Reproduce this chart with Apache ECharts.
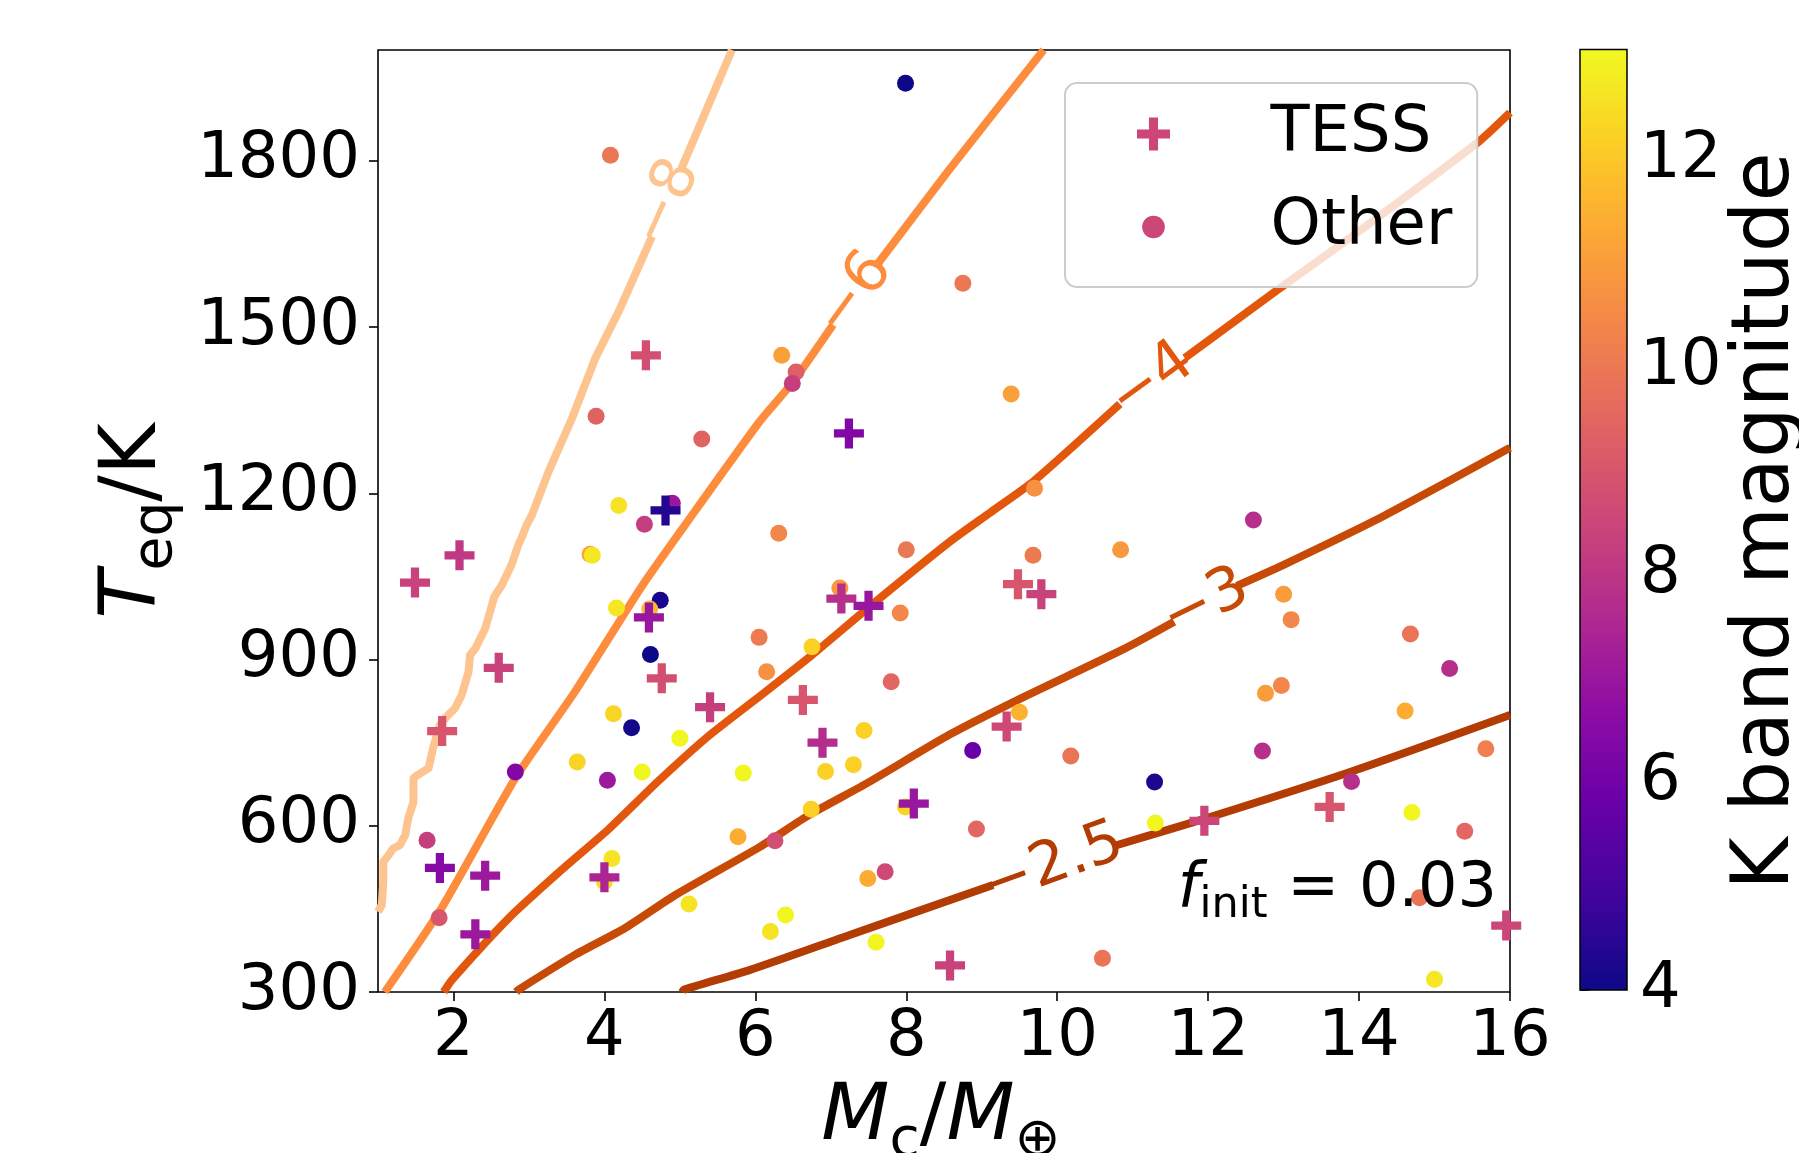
<!DOCTYPE html>
<html>
<head>
<meta charset="utf-8">
<script src="https://cdn.jsdelivr.net/npm/echarts@6/dist/echarts.min.js"></script>
<style>
  html, body { margin: 0; padding: 0; background: #fff; }
  #chart { width: 1799px; height: 1153px; }
</style>
</head>
<body>
<div id="chart"></div>
<script>
// TESS planets: core mass (Earth masses), Teq (K), K band magnitude
var tessMass = [1.49, 2.08, 1.85, 2.60, 1.82, 2.42, 2.29, 4.55, 4.81, 4.59, 4.76, 5.40, 4.00,
                7.24, 7.14, 7.50, 6.63, 6.89, 8.10, 9.33, 9.48, 9.79, 8.58, 11.95, 13.61, 15.95];
var tessTeq  = [1039, 1088, 771, 885, 524, 510, 404, 1449, 1169, 976, 866, 814, 507,
                1308, 1010, 997, 827, 750, 640, 779, 1036, 1018, 348, 609, 634, 420];
var tessKmag = [8.4, 8.1, 9.0, 8.4, 6.5, 7.1, 7.1, 8.8, 4.4, 7.0, 8.8, 8.3, 7.5,
                6.4, 7.8, 7.0, 9.0, 7.7, 7.0, 8.6, 9.0, 8.4, 8.4, 8.5, 9.0, 8.5];

// other known planets
var otherMass = [4.08, 3.89, 5.29, 4.19, 4.90, 4.53, 7.99, 8.75, 6.35, 6.54, 6.49, 9.39, 9.70, 12.60,
                 3.81, 3.84, 4.16, 4.74, 4.60, 4.61, 4.12, 4.36, 5.00, 3.64, 4.04, 4.50, 2.82, 5.84,
                 6.05, 1.65, 5.77, 4.10, 4.00, 1.81, 5.12, 6.31, 8.00, 9.68, 10.84, 7.12, 7.92, 6.15,
                 6.75, 7.80, 7.44, 6.93, 7.30, 6.74, 9.50, 8.88, 10.18, 7.99, 8.93, 6.26, 7.72, 7.49,
                 6.40, 6.20, 7.60, 10.60, 13.00, 13.10, 14.68, 15.20, 12.97, 12.76, 14.61, 12.72, 15.68,
                 11.29, 13.90, 11.30, 14.70, 15.40, 14.80, 15.00];
var otherTeq  = [1810, 1339, 1298, 1178, 1182, 1144, 1940, 1579, 1449, 1419, 1398, 1379, 1209, 1152,
                 1090, 1088, 993, 1007, 991, 909, 802, 777, 758, 715, 682, 697, 697, 695,
                 940, 574, 580, 541, 499, 434, 459, 1128, 1098, 1088, 1098, 1029, 984, 878,
                 923, 860, 772, 698, 710, 630, 805, 736, 726, 634, 594, 573, 517, 505,
                 439, 409, 390, 361, 1018, 972, 946, 884, 853, 839, 807, 735, 739,
                 679, 680, 605, 624, 590, 470, 323];
var otherKmag = [10.0, 9.4, 9.4, 12.6, 7.0, 8.3, 4.0, 10.0, 11.1, 9.3, 8.3, 11.1, 10.7, 7.8,
                 11.2, 12.7, 12.7, 4.2, 11.7, 4.0, 12.3, 4.1, 13.0, 12.3, 7.1, 13.0, 6.4, 13.0,
                 10.1, 8.3, 11.4, 12.6, 12.4, 9.0, 12.6, 10.4, 10.0, 10.1, 10.9, 10.9, 10.4, 10.7,
                 12.2, 9.5, 12.2, 12.2, 12.2, 12.2, 11.5, 5.8, 9.9, 12.3, 9.5, 8.8, 8.6, 11.4,
                 13.0, 12.6, 13.0, 9.9, 11.0, 10.4, 9.9, 7.8, 10.4, 11.0, 11.4, 7.8, 10.2,
                 4.3, 7.8, 13.0, 13.0, 9.5, 9.9, 12.7];

// contour lines [mass, Teq]; the '-' entries are the gaps left for the inline labels
var contourM8 = [[1.0, 445], [1.05, 457], [1.07, 499], [1.07, 535], [1.14, 547], [1.20, 559], [1.29, 565],
                 [1.36, 583], [1.40, 613], [1.47, 643], [1.47, 686], [1.53, 692], [1.67, 704], [1.73, 740],
                 [1.82, 782], [1.91, 797], [2.02, 812], [2.11, 836], [2.20, 878], [2.22, 908], [2.29, 920],
                 [2.42, 956], [2.51, 998], [2.54, 1013], [2.64, 1034], [2.77, 1071], [2.86, 1107], [2.90, 1119],
                 [2.97, 1143], [3.04, 1161], [3.26, 1239], [3.57, 1335], [3.88, 1444], [4.21, 1534], [4.63, 1663],
                 ['-', '-'], [5.02, 1786], [5.69, 2000]];
var contourM6 = [[1.09, 300], [1.84, 451], [2.82, 686], [3.61, 842], [4.49, 1031], [5.07, 1143], [6.06, 1330],
                 [6.50, 1401], [7.03, 1504], ['-', '-'], [7.61, 1612], [8.58, 1786], [9.82, 2000]];
var contourM4 = [[1.87, 300], [1.98, 322], [2.73, 433], [3.43, 520], [4.05, 593], [4.71, 680], [5.38, 762],
                 [6.06, 834], [6.75, 908], [7.51, 995], [8.58, 1113], [9.11, 1165], [9.69, 1222], [10.83, 1361],
                 ['-', '-'], [11.69, 1444], [12.89, 1564], [13.99, 1672], [15.58, 1834], [16.0, 1887]];
var contourM3 = [[2.83, 300], [2.86, 304], [3.61, 367], [4.27, 415], [4.94, 475], [6.06, 562], [6.72, 620],
                 [7.47, 676], [8.58, 765], [9.46, 826], [10.90, 920], [11.55, 968], ['-', '-'],
                 [12.38, 1033], [13.00, 1071], [14.34, 1160], [16.0, 1282]];
var contourM25 = [[5.03, 300], [5.05, 304], [5.93, 340], [7.25, 403], [9.15, 493], ['-', '-'],
                  [10.74, 563], [11.96, 613], [13.90, 698], [16.0, 800]];

var levelNames = ['\u22128', '\u22126', '\u22124', '\u22123', '\u22122.5'];
var labelMass = [4.83, 7.32, 11.26, 11.97, 9.95];
var labelTeq = [1724, 1558, 1402, 1000, 528];

var kRange = [4, 13.07];
var xTicks = [2, 4, 6, 8, 10, 12, 14, 16];
var yTicks = [300, 600, 900, 1200, 1500, 1800];
var cbTicks = [4, 6, 8, 10, 12];

// styles
var font = 'DejaVu Sans';
var lineColors = ['#fdc48f', '#fd8d3c', '#e2570c', '#c84a07', '#b23c04'];
var labelAngles = [66, 54, 36, 26, 20];
var plasma = ['#0d0887', '#41049d', '#6a00a8', '#8f0da4', '#b12a90', '#cc4778',
              '#e16462', '#f2844b', '#fca636', '#fcce25', '#f0f921'];
var plusPath = 'path://M2.9,0H5.1V2.9H8V5.1H5.1V8H2.9V5.1H0V2.9H2.9Z';
var legendDot = 'path://M0,0L0.01,0L0,0.01Z M32,32L31.99,32L32,31.99Z M5,16A11,11 0 1,1 27,16A11,11 0 1,1 5,16Z';

var chart = echarts.init(document.getElementById('chart'));

var contourData = [contourM8, contourM6, contourM4, contourM3, contourM25];
var series = contourData.map(function (d, i) {
    return {
        type: 'line', name: 'level' + i, data: d, showSymbol: false, symbol: 'none',
        connectNulls: false, silent: true, z: 2, smooth: i === 0 ? false : 0.2,
        lineStyle: { color: lineColors[i], width: 8, cap: 'butt', join: 'round' }
    };
});

series.push({
    type: 'scatter', name: 'levelLabels', silent: true, z: 3, symbolSize: 1,
    itemStyle: { color: 'rgba(0,0,0,0)' },
    data: labelMass.map(function (m, i) {
        return {
            value: [m, labelTeq[i]],
            label: { formatter: levelNames[i], rotate: labelAngles[i], color: lineColors[i] }
        };
    }),
    label: { show: true, position: 'inside', fontSize: 60, fontFamily: font,
             textBorderWidth: 0, textBorderColor: 'transparent', opacity: 1 }
});

series.push({
    type: 'scatter', name: 'Other', symbol: 'circle', symbolSize: 17, z: 4,
    itemStyle: { opacity: 1 },
    data: otherMass.map(function (m, i) { return [m, otherTeq[i], otherKmag[i]]; })
});
series.push({
    type: 'scatter', name: 'TESS', symbol: plusPath, symbolSize: 30, z: 5,
    itemStyle: { opacity: 1 },
    data: tessMass.map(function (m, i) { return [m, tessTeq[i], tessKmag[i]]; })
});

// colour bar drawn on its own grid
series.push({
    type: 'custom', name: 'colorbar', xAxisIndex: 1, yAxisIndex: 1, silent: true, clip: false,
    data: [[0, kRange[0], 1, kRange[1]]],
    renderItem: function (params, api) {
        var p0 = api.coord([api.value(0), api.value(1)]);
        var p1 = api.coord([api.value(2), api.value(3)]);
        var stops = plasma.map(function (c, i) { return { offset: i / (plasma.length - 1), color: c }; });
        return {
            type: 'rect',
            shape: { x: p0[0], y: p1[1], width: p1[0] - p0[0], height: p0[1] - p1[1] },
            style: { fill: new echarts.graphic.LinearGradient(0, 1, 0, 0, stops), stroke: '#000', lineWidth: 1.5 }
        };
    }
});

var tickStyle = { show: true, length: 9, lineStyle: { color: '#000', width: 1.6 } };
var plain = function (v) { return String(v); };

// rich text pieces for math-style titles (subscripts pushed down with top padding)
function mathRich(size, subSize, drop) {
    return {
        i: { fontSize: size, fontStyle: 'italic', fontFamily: font, fill: '#000' },
        s: { fontSize: subSize, fontFamily: font, fill: '#000', padding: [drop, 0, 0, 0] },
        n: { fontSize: size, fontFamily: font, fill: '#000' }
    };
}

var option = {
    animation: false,
    backgroundColor: '#fff',
    textStyle: { fontFamily: font },
    grid: [
        { left: 378, top: 50, width: 1132, height: 942, show: true, borderColor: '#000', borderWidth: 1.6,
          backgroundColor: 'transparent' },
        { left: 1580, top: 49.5, width: 47, height: 940.5 }
    ],
    xAxis: [
        { type: 'value', gridIndex: 0, min: 1, max: 16,
          axisLine: { show: false }, splitLine: { show: false },
          axisTick: Object.assign({ customValues: xTicks }, tickStyle),
          axisLabel: { customValues: xTicks, formatter: plain, fontSize: 64, color: '#000', margin: 14, fontFamily: font } },
        { type: 'value', gridIndex: 1, min: 0, max: 1, show: false }
    ],
    yAxis: [
        { type: 'value', gridIndex: 0, min: 300, max: 2000,
          axisLine: { show: false }, splitLine: { show: false },
          axisTick: Object.assign({ customValues: yTicks }, tickStyle),
          axisLabel: { customValues: yTicks, formatter: plain, fontSize: 64, color: '#000', margin: 18, fontFamily: font } },
        { type: 'value', gridIndex: 1, min: kRange[0], max: kRange[1], position: 'right',
          axisLine: { show: false }, splitLine: { show: false },
          axisTick: Object.assign({ customValues: cbTicks }, tickStyle),
          axisLabel: { customValues: cbTicks, formatter: plain, fontSize: 64, color: '#000', margin: 13, fontFamily: font } }
    ],
    visualMap: {
        type: 'continuous', show: false, dimension: 2, min: kRange[0], max: kRange[1],
        seriesIndex: [6, 7], inRange: { color: plasma }
    },
    legend: {
        orient: 'vertical', left: 1065, top: 83, padding: [19, 25, 28, 72],
        itemWidth: 96, itemHeight: 33, itemGap: 29, selectedMode: false,
        backgroundColor: 'rgba(255,255,255,0.8)', borderColor: '#cccccc', borderWidth: 2, borderRadius: 12,
        textStyle: { fontSize: 64, lineHeight: 64, color: '#000', fontFamily: font, padding: [0, 0, 0, 64] },
        data: [
            { name: 'TESS', icon: plusPath, itemStyle: { color: '#cc4778' } },
            { name: 'Other', icon: legendDot, itemStyle: { color: '#cc4778' } }
        ]
    },
    graphic: [
        { type: 'text', x: 134, y: 521, rotation: Math.PI / 2, silent: true,
          style: { text: '{i|T}{s|eq}{n|/K}', align: 'center', verticalAlign: 'middle', rich: mathRich(79, 55, 46) } },
        { type: 'text', x: 941, y: 1118, silent: true,
          style: { text: '{i|M}{s|c}{n|/}{i|M}{s|\u2295}', align: 'center', verticalAlign: 'middle', rich: mathRich(79, 55, 48) } },
        { type: 'text', x: 1497, y: 890, silent: true, z: 10,
          style: { text: '{i|f}{s|init}{n| = 0.03}', align: 'right', verticalAlign: 'middle', rich: mathRich(62, 43, 32) } },
        { type: 'text', x: 1767, y: 521, rotation: Math.PI / 2, silent: true,
          style: { text: 'K band magnitude', fontSize: 80, fontFamily: font, fill: '#000',
                   align: 'center', verticalAlign: 'middle' } }
    ],
    series: series
};

chart.setOption(option);
</script>
</body>
</html>
